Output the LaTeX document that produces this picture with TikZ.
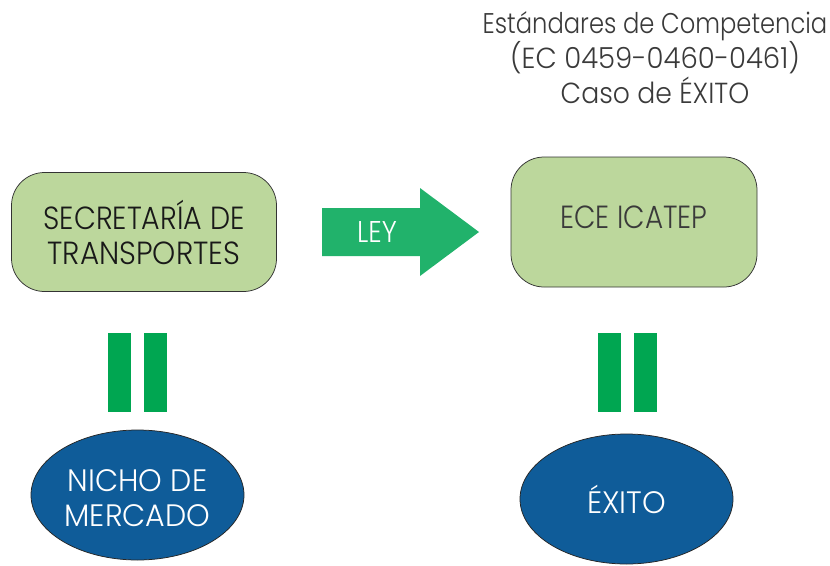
\documentclass[tikz,border=0pt]{standalone}
\usepackage{fontspec}
\setmainfont{Poppins Light}[BoldFont=Poppins Light]
\newcommand{\fnt}[2]{\fontspec{Poppins Light}[FakeStretch=#2]\fontsize{#1}{35}\selectfont}
\usetikzlibrary{shapes.geometric}
\definecolor{boxg}{HTML}{BCD79C}
\definecolor{barg}{HTML}{00A651}
\definecolor{arrg}{HTML}{21B26B}
\definecolor{ovb}{HTML}{0F5C99}
\definecolor{txt}{HTML}{3A3A3A}
\tikzset{
 px/.style={x=1pt,y=-1pt},
 every node/.append style={font=\fontsize{30}{35}\selectfont},
 rbox/.style={draw=black!80,line width=0.75pt,fill=boxg,rounded corners=33pt,inner sep=0pt,align=center,text=black!90},
 oval/.style={ellipse,draw=black!85,line width=0.75pt,fill=ovb,inner sep=0pt,align=center,text=white,minimum width=213pt,minimum height=130pt},
 bar/.style={fill=barg,draw=none,inner sep=0pt,minimum width=23pt,minimum height=79pt},
 lab/.style={align=center,text=txt,inner sep=0pt},
}
\begin{document}
\begin{tikzpicture}[px]
\useasboundingbox (0,0) rectangle (830,565);
\node[lab] (title) at (655,57.5) {{\fnt{28.5}{0.85}Estándares de Competencia}\\{\fnt{29}{0.95}(EC 0459-0460-0461)}\\{\fnt{29}{0.92}Caso de ÉXITO}};
\node[rbox,minimum width=265pt,minimum height=119pt] (st) at (144,232) {{\fnt{32}{0.89}SECRETARÍA DE}\\{\fnt{32}{0.92}TRANSPORTES}};
\node[rbox,text=txt,minimum width=246pt,minimum height=130pt] (ece) at (634,222) {\raisebox{-6pt}[0pt][0pt]{\fnt{32}{0.87}ECE ICATEP}};
\fill[arrg] (322,208) -- (420,208) -- (420,188) -- (479,232) -- (420,276) -- (420,256) -- (322,256) -- cycle;
\node[lab,text=white] (ley) at (377,232) {\fnt{30}{0.89}LEY};
\node[bar] (b1) at (119.5,372.5) {};
\node[bar] (b2) at (155.5,372.5) {};
\node[bar] (b3) at (609.5,372.5) {};
\node[bar] (b4) at (645.5,372.5) {};
\node[oval] (n) at (137.5,495) {\raisebox{-3pt}[\height][\depth]{\fnt{31}{0.97}NICHO DE}\\\raisebox{-3pt}[\height][\depth]{\fnt{31}{0.97}MERCADO}};
\node[oval] (e) at (626.5,499) {\fnt{31}{0.97}ÉXITO};
\end{tikzpicture}
\end{document}
